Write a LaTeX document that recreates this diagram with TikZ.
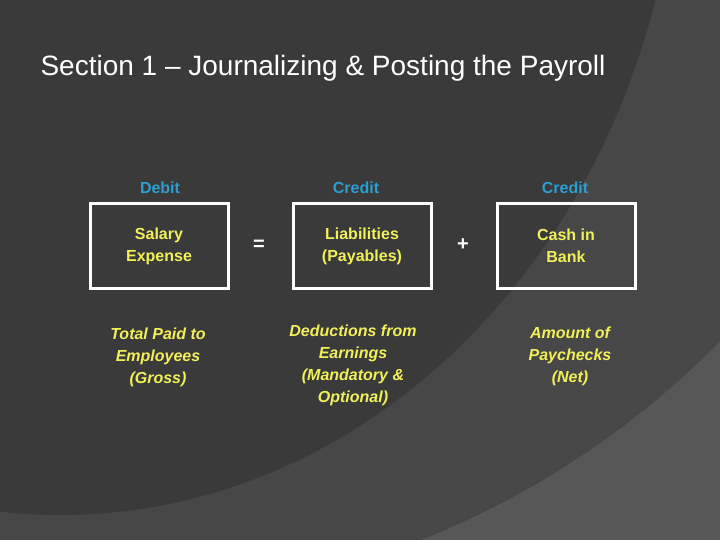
\documentclass[tikz,border=0pt]{standalone}
\usepackage{fontspec}
\setmainfont{Liberation Sans}
\usetikzlibrary{positioning}
\definecolor{bgdark}{HTML}{3A3A3A}
\definecolor{bgmid}{HTML}{474747}
\definecolor{bglight}{HTML}{575757}
\definecolor{headblue}{HTML}{2A9FD0}
\definecolor{txtyellow}{HTML}{F2F05A}
\tikzset{
	account/.style={draw=white, line width=3pt, minimum width=138pt, minimum height=84pt,
		align=center, text=txtyellow, font=\fontsize{16}{22}\selectfont\bfseries},
	head/.style={text=headblue, font=\fontsize{16}{20}\selectfont\bfseries},
	note/.style={align=center, text=txtyellow, font=\fontsize{16}{22}\selectfont\bfseries\itshape},
	sign/.style={text=white, font=\fontsize{20}{20}\selectfont\bfseries}
}
\begin{document}
\begin{tikzpicture}[x=1pt, y=-1pt]
		\useasboundingbox (0,0) rectangle (720,540);
		\fill[bglight] (0,0) rectangle (720,540);
		\begin{scope}
			\clip (0,0) rectangle (720,540);
			\fill[bgmid] (100,-269) circle (870);
			\fill[bgdark] (60,-200) ellipse (620 and 715);
		\end{scope}
		\node[anchor=west, text=white, font=\fontsize{28}{32}\selectfont] (title) at (37,68)
			{Section 1 -- Journalizing \& Posting the Payroll};
		% the three accounts
		\node[account] (salary) at (159,246) {Salary\\Expense};
		\node[account] (liab) at (362,246) {Liabilities\\(Payables)};
		\node[account] (cash) at (566,246) {Cash in\\Bank};
		\node[head] (debit) at (160,188) {Debit};
		\node[head] (credit1) at (356,188) {Credit};
		\node[head] (credit2) at (565,188) {Credit};
		\node[sign] (eq) at (259,245) {=};
		\node[sign] (plus) at (463,245) {+};
		% what each one holds
		\node[note, anchor=north] (gross) at (158,324) {Total Paid to\\Employees\\(Gross)};
		\node[note, anchor=north] (deduct) at (353,321) {Deductions from\\Earnings\\(Mandatory \&\\Optional)};
		\node[note, anchor=north] (net) at (570,323) {Amount of\\Paychecks\\(Net)};
	\end{tikzpicture}
\end{document}
